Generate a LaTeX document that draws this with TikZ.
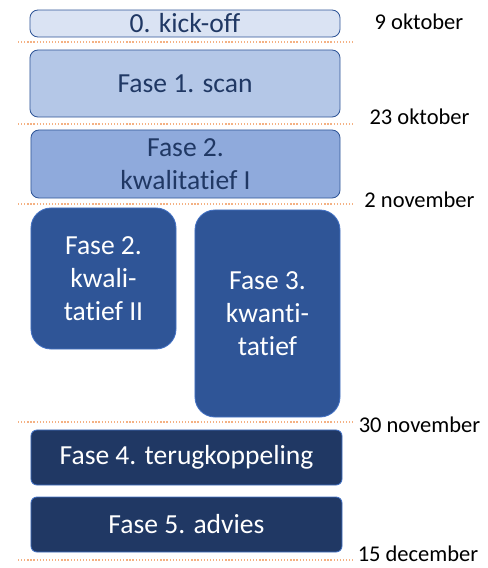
\documentclass[tikz,border=0pt]{standalone}
\usepackage{fontspec}
\setmainfont{Carlito}[Ligatures=NoCommon]
\usepackage{tikz}
\usetikzlibrary{positioning}
\definecolor{phaselight}{HTML}{DAE3F3}
\definecolor{phasemid}{HTML}{B4C7E7}
\definecolor{phaseblue}{HTML}{8FAADC}
\definecolor{phasedeep}{HTML}{2F5597}
\definecolor{phasenavy}{HTML}{203864}
\definecolor{phaseedge}{HTML}{4472C4}
\definecolor{milestone}{HTML}{F4B183}

\begin{document}
\begin{tikzpicture}[
  x=0.025cm, y=-0.025cm,
  phase/.style={draw=phasedeep, line width=0.6pt, inner sep=0pt,
    align=center, font=\fontsize{19.6}{23.5}\selectfont},
  lightphase/.style={phase, text=phasenavy, rounded corners=0.2cm},
  darkphase/.style={phase, draw=phaseedge, text=white},
  cut/.style={milestone, line width=0.9pt, dash pattern=on 0.9pt off 1.3pt},
  datelbl/.style={font=\fontsize{16}{19}\selectfont, inner sep=0pt}
]
  \useasboundingbox (0,0) rectangle (488,568);

  % phases
  \node[lightphase, fill=phaselight, minimum width=7.75cm, minimum height=0.675cm]
    (kickoff) at (185,23.5) {0. kick-off};
  \node[lightphase, fill=phasemid, minimum width=7.75cm, minimum height=1.675cm]
    (scan) at (185,83.5) {Fase 1. scan};
  \node[lightphase, fill=phaseblue, minimum width=7.725cm, minimum height=1.7cm]
    (kwal1) at (185.5,164) {Fase 2.\\kwalitatief I};
  \node[darkphase, fill=phasedeep, rounded corners=0.5cm,
    minimum width=3.625cm, minimum height=3.525cm]
    (kwal2) at (103.5,278.5) {Fase 2.\\kwali-\\tatief II};
  \node[darkphase, fill=phasedeep, rounded corners=0.5cm,
    minimum width=3.625cm, minimum height=5.175cm]
    (kwant) at (267.5,313.5) {Fase 3.\\kwanti-\\tatief};
  \node[darkphase, fill=phasenavy, rounded corners=0.15cm,
    minimum width=7.775cm, minimum height=1.375cm]
    (terug) at (186.5,457.5) {Fase 4. terugkoppeling};
  \node[darkphase, fill=phasenavy, rounded corners=0.15cm,
    minimum width=7.775cm, minimum height=1.375cm]
    (advies) at (186.5,524.5) {Fase 5. advies};

  % milestones
  \foreach \y/\name in {42/a,124/b,204/c,422/d,560/e} {
    \coordinate (cut\name w) at (18,\y);
    \coordinate (cut\name e) at (353,\y);
    \draw[cut] (cut\name w) -- (cut\name e);
  }

  % dates
  \node[datelbl] (d1) at (419,22) {9 oktober};
  \node[datelbl] (d2) at (419.5,117) {23 oktober};
  \node[datelbl] (d3) at (419.5,200) {2 november};
  \node[datelbl] (d4) at (419.5,425) {30 november};
  \node[datelbl] (d5) at (418,554) {15 december};
\end{tikzpicture}
\end{document}
